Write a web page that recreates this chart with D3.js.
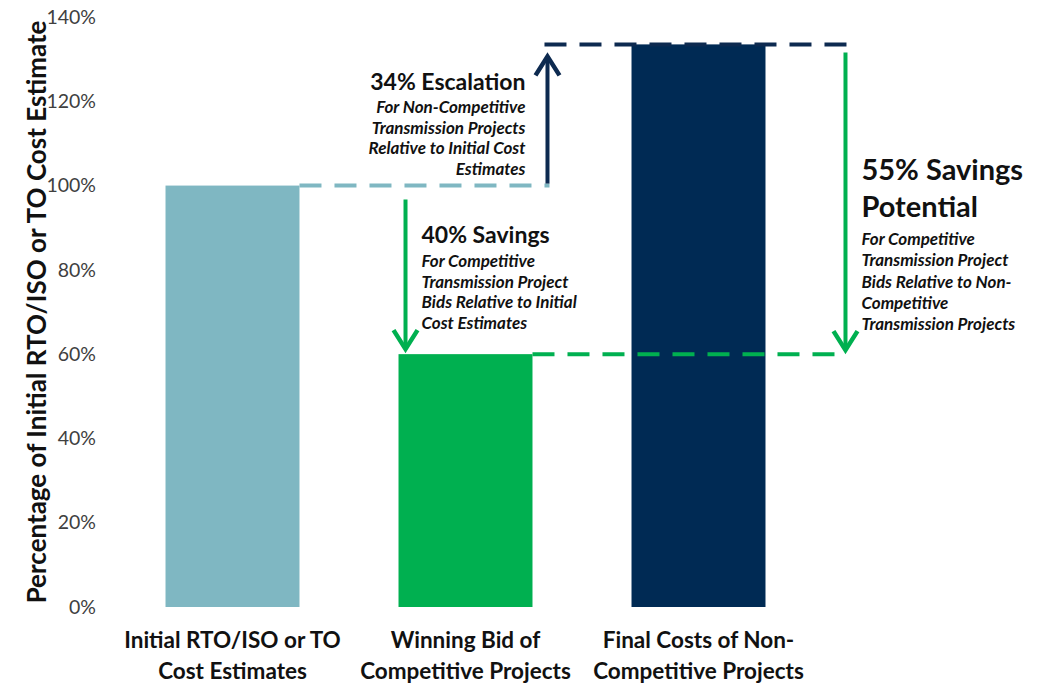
<!DOCTYPE html>
<html>
<head>
<meta charset="utf-8">
<script src="https://cdn.jsdelivr.net/npm/d3@7"></script>
<style>
  body { margin: 0; background: #fff; }
  text { font-family: Lato, "Open Sans", sans-serif; }
</style>
</head>
<body>
<div id="chart"></div>
<script>
// chart values
var categories = [
  ["Initial RTO/ISO or TO", "Cost Estimates"],
  ["Winning Bid of", "Competitive Projects"],
  ["Final Costs of Non-", "Competitive Projects"]
];
var values = [1.00, 0.60, 1.335];
var barColors = ["#7fb7c2", "#00b050", "#002a54"];
var yTicks = [0, 0.2, 0.4, 0.6, 0.8, 1.0, 1.2, 1.4];

// annotation text
var escTitle = ["34% Escalation"];
var escLines = ["For Non-Competitive", "Transmission Projects", "Relative to Initial Cost", "Estimates"];
var savTitle = ["40% Savings"];
var savLines = ["For Competitive", "Transmission Project", "Bids Relative to Initial", "Cost Estimates"];
var potTitle = ["55% Savings", "Potential"];
var potLines = ["For Competitive", "Transmission Project", "Bids Relative to Non-", "Competitive", "Transmission Projects"];

var svgWidth = 1040;
var svgHeight = 684;

var svg = d3.select("#chart")
  .append("svg")
  .attr("width", svgWidth)
  .attr("height", svgHeight);

// scales
var y = d3.scaleLinear().domain([0, 1.4]).range([607, 17]);
var x = d3.scaleBand()
  .domain(d3.range(categories.length))
  .range([116, 815])
  .paddingInner(0.425)
  .paddingOuter(0.2125);

// y axis (labels only)
var yAxis = svg.append("g")
  .attr("transform", "translate(96,0)")
  .call(d3.axisLeft(y).tickValues(yTicks).tickFormat(d3.format(".0%")).tickSize(0).tickPadding(0));
yAxis.select(".domain").remove();
yAxis.selectAll("text")
  .attr("fill", "#404040")
  .style("font-size", "19.5px")
  .style("font-family", "Lato, sans-serif");

svg.append("text")
  .attr("transform", "translate(46," + y(0.7) + ") rotate(-90)")
  .attr("text-anchor", "middle")
  .style("font-size", "26px")
  .style("font-weight", "bold")
  .attr("fill", "#111")
  .text("Percentage of Initial RTO/ISO or TO Cost Estimate");

// bars
svg.selectAll("rect.bar")
  .data(values)
  .enter()
  .append("rect")
  .attr("class", "bar")
  .attr("x", (d, i) => x(i))
  .attr("y", d => y(d))
  .attr("width", x.bandwidth())
  .attr("height", d => y(0) - y(d))
  .attr("fill", (d, i) => barColors[i]);

// category labels
var catG = svg.selectAll("text.cat")
  .data(categories)
  .enter()
  .append("text")
  .attr("class", "cat")
  .attr("text-anchor", "middle")
  .attr("fill", "#111")
  .style("font-size", "22.5px")
  .style("font-weight", "bold");
catG.selectAll("tspan")
  .data((d, i) => d.map(t => ({ t: t, i: i })))
  .enter()
  .append("tspan")
  .attr("x", d => x(d.i) + x.bandwidth() / 2)
  .attr("y", (d, j) => 648 + j * 31)
  .text(d => d.t);

// arrow positions in x from the band scale
var escX = x(1) + x.bandwidth() + 15;
var savX = x(1) + 7;
var potX = x(2) + x.bandwidth() + 80;

// dashed reference lines
function dashed(x1, x2, v, color) {
  svg.append("line")
    .attr("x1", x1).attr("x2", x2)
    .attr("y1", y(v)).attr("y2", y(v))
    .attr("stroke", color)
    .attr("stroke-width", 4)
    .attr("stroke-dasharray", "22,13");
}
dashed(x(0) + x.bandwidth(), escX + 2, values[0], "#7fb7c2");
dashed(escX - 3, potX + 3, values[2], "#0d2a50");
dashed(x(1) + x.bandwidth(), potX - 2, values[1], "#00b050");

// arrows
function arrow(xPos, fromV, toV, color, gapStart, gapEnd) {
  var y1 = y(fromV) + gapStart;
  var y2 = y(toV) + gapEnd;
  var dir = y2 > y1 ? 1 : -1;
  svg.append("line")
    .attr("x1", xPos).attr("x2", xPos)
    .attr("y1", y1).attr("y2", y2)
    .attr("stroke", color).attr("stroke-width", 4);
  svg.append("path")
    .attr("d", "M" + (xPos - 12) + "," + (y2 - dir * 18) + "L" + xPos + "," + (y2 + dir * 1) + "L" + (xPos + 12) + "," + (y2 - dir * 18))
    .attr("fill", "none")
    .attr("stroke", color)
    .attr("stroke-width", 4.5)
    .attr("stroke-linejoin", "miter");
}
arrow(escX, values[0], values[2], "#0d2a50", -2, 13);
arrow(savX, values[0], values[1], "#00b050", 14, -6);
arrow(potX, values[2], values[1], "#00b050", 8, -5);

// annotation text blocks
function block(xPos, anchor, titles, titleSize, titleY, titleStep, lines, lineY, lineStep) {
  svg.selectAll(null)
    .data(titles)
    .enter()
    .append("text")
    .attr("x", xPos)
    .attr("y", (d, i) => titleY + i * titleStep)
    .attr("text-anchor", anchor)
    .attr("fill", "#111")
    .style("font-size", titleSize + "px")
    .style("font-weight", "bold")
    .text(d => d);
  svg.selectAll(null)
    .data(lines)
    .enter()
    .append("text")
    .attr("x", xPos)
    .attr("y", (d, i) => lineY + i * lineStep)
    .attr("text-anchor", anchor)
    .attr("fill", "#111")
    .style("font-size", "17px")
    .style("font-weight", "bold")
    .style("font-style", "italic")
    .text(d => d);
}
block(escX - 22, "end", escTitle, 23, 90, 0, escLines, 113, 20.7);
block(savX + 16, "start", savTitle, 23, 243, 0, savLines, 267, 20.7);
block(potX + 16, "start", potTitle, 29, 180, 37, potLines, 245, 21.3);
</script>
</body>
</html>
